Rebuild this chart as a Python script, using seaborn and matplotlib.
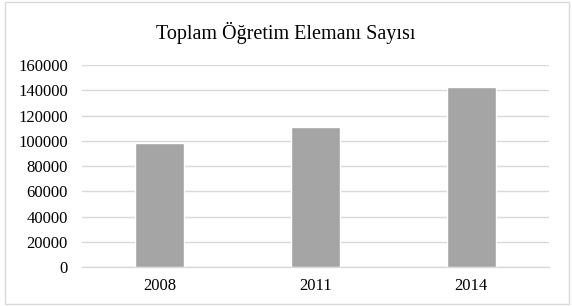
import matplotlib
matplotlib.use('Agg')
import matplotlib.pyplot as plt
import pandas as pd
import seaborn as sns
from matplotlib.patches import Rectangle

# Data
years = ['2008', '2011', '2014']
staff = [98400, 111100, 142300]
y_ticks = [0, 20000, 40000, 60000, 80000, 100000, 120000, 140000, 160000]

df = pd.DataFrame({'year': years, 'count': staff})

sns.set_theme(style='white')
plt.rcParams['font.family'] = ['Liberation Serif', 'DejaVu Serif']

fig = plt.figure(figsize=(5.72, 3.06), dpi=100)
ax = fig.add_axes([0.1428, 0.1265, 0.8175, 0.6611])

sns.barplot(data=df, x='year', y='count', color='#A5A5A5', saturation=1,
            width=0.31, ax=ax, zorder=3)

ax.set_ylim(0, 160000)
ax.set_yticks(y_ticks)
ax.set_yticklabels([str(t) for t in y_ticks])
ax.grid(axis='y', color='#D9D9D9', linewidth=1, zorder=0)
ax.set_axisbelow(True)
for side in ['left', 'right', 'top']:
    ax.spines[side].set_visible(False)
ax.spines['bottom'].set_color('#D9D9D9')
ax.spines['bottom'].set_linewidth(1)
ax.tick_params(axis='both', length=0, labelsize=12, colors='#000000')
ax.tick_params(axis='y', pad=10)
ax.tick_params(axis='x', pad=8)
ax.set_xlabel('')
ax.set_ylabel('')

fig.text(0.5, 0.893, 'Toplam Öğretim Elemanı Sayısı', ha='center', va='center',
         fontsize=14.5, color='#000000')

# light frame around the chart area
fig.patches.append(Rectangle((0.008, 0.005), 0.986, 0.99, transform=fig.transFigure,
                             fill=False, edgecolor='#D9D9D9', linewidth=1))

fig.savefig('out.png', dpi=100)
